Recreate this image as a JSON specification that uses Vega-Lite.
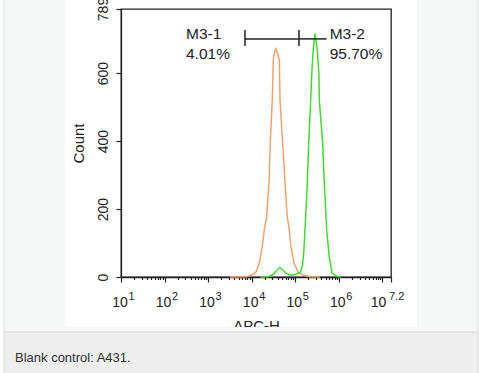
{
  "$schema": "https://vega.github.io/schema/vega-lite/v6.json",
  "width": 270,
  "height": 268,
  "autosize": {"type": "none"},
  "padding": {"left": 121, "top": 9, "right": 88, "bottom": 96},
  "background": "white",
  "config": {
    "font": "Liberation Sans",
    "view": {"stroke": "#222", "strokeWidth": 1.3},
    "axis": {"domainColor": "#222", "domainWidth": 1.3, "tickColor": "#222", "labelColor": "#222", "titleColor": "#222", "grid": false, "zindex": 0}
  },
  "datasets": {
    "hist": [
      {"series": "Blank control", "apc": 3162, "count": 0},
      {"series": "Blank control", "apc": 7691, "count": 1},
      {"series": "Blank control", "apc": 10000, "count": 6},
      {"series": "Blank control", "apc": 12589, "count": 15},
      {"series": "Blank control", "apc": 14962, "count": 41},
      {"series": "Blank control", "apc": 17539, "count": 89},
      {"series": "Blank control", "apc": 19498, "count": 139},
      {"series": "Blank control", "apc": 22131, "count": 177},
      {"series": "Blank control", "apc": 25003, "count": 277},
      {"series": "Blank control", "apc": 26792, "count": 395},
      {"series": "Blank control", "apc": 29785, "count": 522},
      {"series": "Blank control", "apc": 31405, "count": 640},
      {"series": "Blank control", "apc": 33884, "count": 666},
      {"series": "Blank control", "apc": 36224, "count": 672},
      {"series": "Blank control", "apc": 39811, "count": 655},
      {"series": "Blank control", "apc": 43152, "count": 640},
      {"series": "Blank control", "apc": 44771, "count": 522},
      {"series": "Blank control", "apc": 51642, "count": 395},
      {"series": "Blank control", "apc": 58210, "count": 277},
      {"series": "Blank control", "apc": 65766, "count": 177},
      {"series": "Blank control", "apc": 73114, "count": 139},
      {"series": "Blank control", "apc": 79983, "count": 89},
      {"series": "Blank control", "apc": 93756, "count": 41},
      {"series": "Blank control", "apc": 115878, "count": 15},
      {"series": "Blank control", "apc": 151008, "count": 6},
      {"series": "Blank control", "apc": 218776, "count": 1},
      {"series": "Blank control", "apc": 371535, "count": 0},
      {"series": "Stained", "apc": 15849, "count": 0},
      {"series": "Stained", "apc": 23988, "count": 1},
      {"series": "Stained", "apc": 31623, "count": 8},
      {"series": "Stained", "apc": 38019, "count": 20},
      {"series": "Stained", "apc": 44668, "count": 28},
      {"series": "Stained", "apc": 52481, "count": 20},
      {"series": "Stained", "apc": 63096, "count": 10},
      {"series": "Stained", "apc": 83176, "count": 5},
      {"series": "Stained", "apc": 104713, "count": 9},
      {"series": "Stained", "apc": 131826, "count": 14},
      {"series": "Stained", "apc": 147911, "count": 35},
      {"series": "Stained", "apc": 158489, "count": 80},
      {"series": "Stained", "apc": 167880, "count": 139},
      {"series": "Stained", "apc": 189671, "count": 277},
      {"series": "Stained", "apc": 204174, "count": 395},
      {"series": "Stained", "apc": 226986, "count": 522},
      {"series": "Stained", "apc": 239332, "count": 596},
      {"series": "Stained", "apc": 260016, "count": 670},
      {"series": "Stained", "apc": 284446, "count": 717},
      {"series": "Stained", "apc": 321366, "count": 670},
      {"series": "Stained", "apc": 351560, "count": 596},
      {"series": "Stained", "apc": 357273, "count": 522},
      {"series": "Stained", "apc": 427563, "count": 395},
      {"series": "Stained", "apc": 465586, "count": 277},
      {"series": "Stained", "apc": 528445, "count": 139},
      {"series": "Stained", "apc": 602560, "count": 60},
      {"series": "Stained", "apc": 699842, "count": 12},
      {"series": "Stained", "apc": 897333, "count": 2},
      {"series": "Stained", "apc": 1122018, "count": 0}
    ],
    "gates": [
      {"gate": "M3-1", "lo": 7031, "hi": 122180, "pct": "4.01%"},
      {"gate": "M3-2", "lo": 122180, "hi": 528450, "pct": "95.70%"}
    ],
    "exps": [
      {"apc": 10, "exp": "1"},
      {"apc": 100, "exp": "2"},
      {"apc": 1000, "exp": "3"},
      {"apc": 10000, "exp": "4"},
      {"apc": 100000, "exp": "5"},
      {"apc": 1000000, "exp": "6"},
      {"apc": 15848931.92, "exp": "7.2"}
    ],
    "one": [{}]
  },
  "layer": [
    {
      "data": {"name": "hist"},
      "mark": {"type": "line", "strokeWidth": 1.5},
      "encoding": {
        "x": {
          "field": "apc", "type": "quantitative",
          "scale": {"type": "log", "domain": [10, 15848931.92], "nice": false},
          "axis": {
            "title": "APC-H", "titleFontSize": 15, "titleFontWeight": "normal", "titleBaseline": "alphabetic", "titleY": 53, "titleX": 135,
            "values": [10, 20, 30, 40, 50, 60, 70, 80, 90, 100, 200, 300, 400, 500, 600, 700, 800, 900, 1000, 2000, 3000, 4000, 5000, 6000, 7000, 8000, 9000, 10000, 20000, 30000, 40000, 50000, 60000, 70000, 80000, 90000, 100000, 200000, 300000, 400000, 500000, 600000, 700000, 800000, 900000, 1000000, 2000000, 3000000, 4000000, 5000000, 6000000, 7000000, 8000000, 9000000, 10000000, 15848931.92],
            "labelExpr": "((abs(log(datum.value) / LN10 - round(log(datum.value) / LN10)) < 0.00001) && datum.value < 5000000) || datum.value > 15000000 ? '10' : ''",
            "labelFontSize": 14, "labelBaseline": "alphabetic", "labelPadding": 24, "labelFlush": false, "labelOverlap": false,
            "labelOffset": {"condition": {"test": "datum.value > 15000000", "value": -13}, "value": -1.5},
            "tickSize": {"condition": {"test": "abs(log(datum.value) / LN10 - round(log(datum.value) / LN10)) < 0.00001 || datum.value > 15000000", "value": 5}, "value": 2.5},
            "tickWidth": 1.2
          }
        },
        "y": {
          "field": "count", "type": "quantitative",
          "scale": {"domain": [0, 789], "nice": false, "zero": false},
          "axis": {
            "title": "Count", "titleFontSize": 15, "titleFontWeight": "normal", "titleAngle": -90, "titleBaseline": "alphabetic", "titleAlign": "center", "titleX": -38, "titleY": 134,
            "values": [0, 50, 100, 150, 200, 250, 300, 350, 400, 450, 500, 550, 600, 650, 700, 750, 789],
            "labelExpr": "(datum.value % 200 == 0 || datum.value == 789) ? datum.value + '' : ''",
            "labelAngle": -90, "labelAlign": "center", "labelBaseline": "alphabetic", "labelFontSize": 14, "labelPadding": 8.5, "labelFlush": false, "labelOverlap": false,
            "tickSize": {"condition": {"test": "datum.value % 200 == 0 || datum.value == 789", "value": 5}, "value": 2.5},
            "tickWidth": 1.2
          }
        },
        "color": {"field": "series", "type": "nominal", "scale": {"domain": ["Blank control", "Stained"], "range": ["#f2a26c", "#3fdc2e"]}, "legend": null}
      }
    },
    {
      "data": {"name": "exps"},
      "transform": [{"filter": "datum.apc < 15000000"}],
      "mark": {"type": "text", "align": "left", "baseline": "alphabetic", "dx": 7.5, "dy": 22.5, "fontSize": 11, "color": "#222", "clip": false},
      "encoding": {
        "x": {"field": "apc", "type": "quantitative"},
        "y": {"datum": 0},
        "text": {"field": "exp"}
      }
    },
    {
      "data": {"name": "exps"},
      "transform": [{"filter": "datum.apc > 15000000"}],
      "mark": {"type": "text", "align": "left", "baseline": "alphabetic", "dx": -2, "dy": 22.5, "fontSize": 11, "color": "#222", "clip": false},
      "encoding": {
        "x": {"field": "apc", "type": "quantitative"},
        "y": {"datum": 0},
        "text": {"field": "exp"}
      }
    },
    {
      "data": {"name": "gates"},
      "mark": {"type": "rule", "color": "#222", "strokeWidth": 1.5},
      "encoding": {
        "x": {"field": "lo", "type": "quantitative"},
        "x2": {"field": "hi"},
        "y": {"datum": 701}
      }
    },
    {
      "data": {"name": "gates"},
      "mark": {"type": "rule", "color": "#222", "strokeWidth": 1.5},
      "encoding": {
        "x": {"field": "lo", "type": "quantitative"},
        "y": {"datum": 680},
        "y2": {"datum": 727}
      }
    },
    {
      "data": {"name": "gates"},
      "transform": [{"filter": "datum.gate == 'M3-1'"}],
      "mark": {"type": "text", "align": "left", "baseline": "alphabetic", "dx": -59, "fontSize": 15.5, "color": "#222"},
      "encoding": {
        "x": {"field": "lo", "type": "quantitative"},
        "y": {"datum": 701},
        "text": {"field": "gate"}
      }
    },
    {
      "data": {"name": "gates"},
      "transform": [{"filter": "datum.gate == 'M3-1'"}],
      "mark": {"type": "text", "align": "left", "baseline": "alphabetic", "dx": -59, "fontSize": 15.5, "color": "#222"},
      "encoding": {
        "x": {"field": "lo", "type": "quantitative"},
        "y": {"datum": 642},
        "text": {"field": "pct"}
      }
    },
    {
      "data": {"name": "gates"},
      "transform": [{"filter": "datum.gate == 'M3-2'"}],
      "mark": {"type": "text", "align": "left", "baseline": "alphabetic", "dx": 3, "fontSize": 15.5, "color": "#222"},
      "encoding": {
        "x": {"field": "hi", "type": "quantitative"},
        "y": {"datum": 701},
        "text": {"field": "gate"}
      }
    },
    {
      "data": {"name": "gates"},
      "transform": [{"filter": "datum.gate == 'M3-2'"}],
      "mark": {"type": "text", "align": "left", "baseline": "alphabetic", "dx": 3, "fontSize": 15.5, "color": "#222"},
      "encoding": {
        "x": {"field": "hi", "type": "quantitative"},
        "y": {"datum": 642},
        "text": {"field": "pct"}
      }
    },
    {
      "data": {"name": "one"},
      "mark": {"type": "rect", "fill": "#f6f7f7", "clip": false},
      "encoding": {"x": {"datum": 0.02056}, "x2": {"datum": 0.5176}, "y": {"datum": -161.9}, "y2": {"datum": 815.5}}
    },
    {
      "data": {"name": "one"},
      "mark": {"type": "rect", "fill": "#f6f7f7", "clip": false},
      "encoding": {"x": {"datum": 62700000}, "x2": {"datum": 1578000000}, "y": {"datum": -161.9}, "y2": {"datum": 815.5}}
    },
    {
      "data": {"name": "one"},
      "mark": {"type": "rect", "fill": "#f6f7f7", "clip": false},
      "encoding": {"x": {"datum": 0.02056}, "x2": {"datum": 1578000000}, "y": {"datum": -161.9}, "y2": {"datum": -147.2}}
    },
    {
      "data": {"name": "one"},
      "mark": {"type": "rect", "fill": "#eeeeee", "clip": false},
      "encoding": {"x": {"datum": 0.02056}, "x2": {"datum": 1578000000}, "y": {"datum": -282.6}, "y2": {"datum": -161.9}}
    },
    {
      "data": {"name": "one"},
      "mark": {"type": "rule", "color": "#dcdcdc", "strokeWidth": 1},
      "encoding": {"x": {"datum": 0.02056}, "y": {"datum": -282.6}, "y2": {"datum": 815.5}}
    },
    {
      "data": {"name": "one"},
      "mark": {"type": "rule", "color": "#dcdcdc", "strokeWidth": 1},
      "encoding": {"x": {"datum": 1578000000}, "y": {"datum": -282.6}, "y2": {"datum": 815.5}}
    },
    {
      "data": {"name": "one"},
      "mark": {"type": "rule", "color": "#dcdcdc", "strokeWidth": 1},
      "encoding": {"x": {"datum": 0.02056}, "x2": {"datum": 1578000000}, "y": {"datum": -161.9}}
    },
    {
      "data": {"name": "one"},
      "mark": {"type": "text", "align": "left", "baseline": "alphabetic", "fontSize": 13, "color": "#333"},
      "encoding": {"x": {"datum": 0.0368}, "y": {"datum": -250.2}, "text": {"value": "Blank control: A431."}}
    }
  ]
}
